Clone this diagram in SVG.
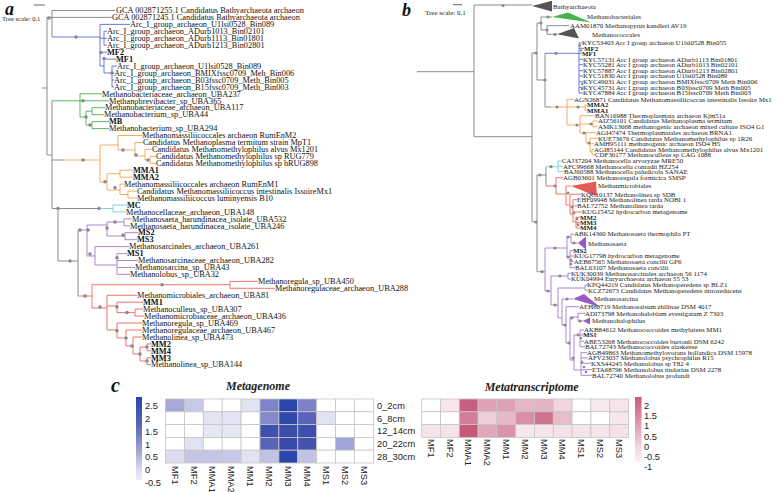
<svg xmlns="http://www.w3.org/2000/svg" width="778" height="492" viewBox="0 0 778 492">
<style>
.br{fill:none;stroke-width:0.9}
.g{stroke:#808080}.bl{stroke:#5a6ed2}.gr{stroke:#4caf50}.or{stroke:#f6a44f}.cy{stroke:#6fd0d8}.pu{stroke:#a478cf}.rd{stroke:#f0645a}
.d{fill:#8a8a8a}
.ta{font-family:"Liberation Serif","Times New Roman",serif;font-size:8.3px;fill:#111}
.tb{font-family:"Liberation Serif","Times New Roman",serif;font-size:6.9px;fill:#222}
.b{font-weight:bold}
.pl{font-family:"Liberation Serif","Times New Roman",serif;font-weight:bold;font-style:italic;fill:#111}
.sc{font-family:"Liberation Serif","Times New Roman",serif;fill:#222}
.hs{font-family:"Liberation Sans",Arial,sans-serif;font-size:9.3px;fill:#222}
.ht{font-family:"Liberation Serif","Times New Roman",serif;font-size:12px;font-weight:bold;font-style:italic;fill:#222;text-anchor:middle}
.c rect{stroke:#c6c6c6;stroke-width:0.8}
</style>
<defs>
<linearGradient id="gb" x1="0" y1="0" x2="0" y2="1">
<stop offset="0" stop-color="#2644a6"/><stop offset="0.35" stop-color="#5c67b8"/><stop offset="0.65" stop-color="#a0a4d6"/><stop offset="0.88" stop-color="#dcdcef"/><stop offset="1" stop-color="#ececf6"/>
</linearGradient>
<linearGradient id="gp" x1="0" y1="0" x2="0" y2="1">
<stop offset="0" stop-color="#c8587a"/><stop offset="0.4" stop-color="#dc9bb1"/><stop offset="0.75" stop-color="#f0d3dd"/><stop offset="1" stop-color="#fbf1f5"/>
</linearGradient>
</defs>
<rect width="778" height="492" fill="#fff"/>

<g id="panel-a">
<text class="pl" x="5" y="15" font-size="18">a</text>
<path d="M34 5H45" stroke="#555" stroke-width="0.9"/>
<text class="sc" x="2" y="21" font-size="6.6">Tree scale: 0.1</text>
<g id="tree-a-connectors">
<path class="br g" d="M42 88H47M47 17V155M47 17.4H112M52 10.5V37M52 10.5H115M47 155H52M52 100.8V208.5M52 160H65M52 208.5H100M58 208.5V261M58 261H78M78 230V296"/>
<path class="br bl" d="M52 37H100M100 24.4V66M100 24.4H130M100 38.3H104M104 31.3V45.2M104 31.3H107M104 38.3H107M104 45.2H107M100 52.2H107M100 66H104M104 59.1V73M104 59.1H116M104 73H112M112 66.1V86.9M112 66.1H117M112 73H114M112 80H114M112 86.9H114"/>
<path class="br gr" d="M52 100.8H80M80 93.8V117M80 93.8H102M80 100.8H109M80 117H86M86 111.2V125.1M86 111.2H92M86 125.1H92M92 107.7V114.7M92 107.7H105M92 114.7H104M92 121.6V128.6M92 121.6H109M92 128.6H109"/>
<path class="br or" d="M65 160H100M100 145V182M100 145H118M118 135.5V150M118 135.5H142M118 150H135M135 142.5V156M135 142.5H143M135 156H145M145 149.4V160M145 149.4H152M145 160H150M150 156.4V163.3M150 156.4H156M150 163.3H156M100 182H107M107 173.7V190M107 173.7H120M120 170.2V177.2M120 170.2H133M120 177.2H133M107 190H120M120 184.1V194.5M120 184.1H124M120 194.5H128M128 191.1V198M128 191.1H137M128 198H137"/>
<path class="br cy" d="M100 208.5H113M113 205V211.9M113 205H127M113 211.9H126"/>
<path class="br pu" d="M78 230H87M87 225V256M87 225H107M107 222V236M107 222H124M124 218.9V225.8M124 218.9H132M124 225.8H130M107 236H125M125 232.7V239.7M125 232.7H138M125 239.7H137M87 256H95M95 246.6V265M95 246.6H129M95 265H117M117 253.6V274.4M117 253.6H127M117 260.5H138M117 267.5H135M117 274.4H130"/>
<path class="br rd" d="M78 296H92M92 284.7V308M92 284.7H230M230 281.4V288.3M230 281.4H258M230 288.3H275M92 308H107M107 295.3V330M107 295.3H137M107 306H117M117 302.2V312.6M117 302.2H143M117 312.6H135M135 309.1V316.1M135 309.1H143M135 316.1H144M107 330H117M117 323V338M117 323H142M117 338H126M126 330V346M126 330H142M126 346H133M133 337V354M133 337H142M133 354H140M140 347V361M140 347H147M147 343.9V350.8M147 343.9H151M147 350.8H151M140 361H147M147 357.8V364.7M147 357.8H151M147 364.7H151"/>
</g>
<g id="tree-a-nodes" class="d">
<circle cx="49" cy="18" r="1.8"/><circle cx="76" cy="37" r="1.8"/><circle cx="101" cy="52.5" r="1.8"/><circle cx="104" cy="58.5" r="1.8"/><circle cx="112" cy="73" r="1.8"/>
<circle cx="83" cy="100.8" r="1.8"/><circle cx="86" cy="117" r="1.8"/><circle cx="90" cy="125" r="1.8"/>
<circle cx="83" cy="160" r="1.8"/><circle cx="123" cy="150" r="1.8"/><circle cx="136" cy="155" r="1.8"/><circle cx="148" cy="160" r="1.8"/><circle cx="105" cy="181.7" r="1.8"/><circle cx="115" cy="187.7" r="1.8"/>
<circle cx="58" cy="208.5" r="1.8"/><circle cx="99" cy="208.5" r="1.8"/><circle cx="70" cy="261" r="1.8"/><circle cx="80" cy="230" r="1.8"/>
<circle cx="88" cy="230" r="1.8"/><circle cx="107" cy="228" r="1.8"/><circle cx="115" cy="222" r="1.8"/><circle cx="123" cy="235" r="1.8"/><circle cx="90" cy="254" r="1.8"/><circle cx="117" cy="257.7" r="1.8"/>
<circle cx="85" cy="296" r="1.8"/><circle cx="162" cy="284.7" r="1.8"/><circle cx="100" cy="307" r="1.8"/><circle cx="117" cy="307" r="1.8"/><circle cx="127" cy="312.6" r="1.8"/><circle cx="117" cy="330.7" r="1.8"/><circle cx="126" cy="338" r="1.8"/><circle cx="132" cy="346" r="1.8"/><circle cx="140" cy="354" r="1.8"/><circle cx="147" cy="347" r="1.8"/><circle cx="147" cy="361" r="1.8"/>
</g>
<g id="tree-a-labels" class="ta">
<text x="116" y="13.2">GCA 002871255.1 Candidatus Bathyarchaeota archaeon</text>
<text x="112" y="20.1">GCA 002871245.1 Candidatus Bathyarchaeota archaeon</text>
<text x="130" y="27.1">Arc_I_group_archaeon_U1lsi0528_Bin089</text>
<text x="107" y="34">Arc_I_group_archaeon_ADurb1013_Bin02101</text>
<text x="107" y="41">Arc_I_group_archaeon_ADurb1113_Bin01801</text>
<text x="107" y="47.9">Arc_I_group_archaeon_ADurb1213_Bin02801</text>
<text x="107" y="54.9" class="b">MF2</text>
<text x="116" y="61.8" class="b">MF1</text>
<text x="117" y="68.8">Arc_I_group_archaeon_U1lsi0528_Bin089</text>
<text x="114" y="75.7">Arc_I_group_archaeon_BMIXfssc0709_Meh_Bin006</text>
<text x="114" y="82.7">Arc_I_group_archaeon_B03fssc0709_Meth_Bin005</text>
<text x="114" y="89.6">Arc_I_group_archaeon_B15fssc0709_Meth_Bin003</text>
<text x="102" y="96.5">Methanobacteriaceae_archaeon_UBA237</text>
<text x="109" y="103.5">Methanobrevibacter_sp_UBA365</text>
<text x="105" y="110.4">Methanobacteriaceae_archaeon_UBA117</text>
<text x="104" y="117.4">Methanobacterium_sp_UBA44</text>
<text x="109" y="124.3" class="b">MB</text>
<text x="109" y="131.3">Methanobacterium_sp_UBA294</text>
<text x="142" y="138.2">Methanomassiliicoccales archaeon RumEnM2</text>
<text x="143" y="145.2">Candidatus Methanoplasma termitum strain MpT1</text>
<text x="152" y="152.1">Candidatus Methanomethylophilus alvus Mx1201</text>
<text x="156" y="159">Candidatus Methanomethylophilus sp RUG779</text>
<text x="156" y="166">Candidatus Methanomethylophilus sp hRUG898</text>
<text x="133" y="172.9" class="b">MMA1</text>
<text x="133" y="179.9" class="b">MMA2</text>
<text x="124" y="186.8">Methanomassiliicoccales archaeon RumEnM1</text>
<text x="137" y="193.8">Candidatus Methanomassiliicoccus intestinalis IssoireMx1</text>
<text x="137" y="200.7">Methanomassiliicoccus luminyensis B10</text>
<text x="127" y="207.7" class="b">MC</text>
<text x="126" y="214.6">Methanocellaceae_archaeon_UBA148</text>
<text x="132" y="221.6">Methanosaeta_harundinacea_isolate_UBA532</text>
<text x="130" y="228.5">Methanosaeta_harundinacea_isolate_UBA246</text>
<text x="138" y="235.4" class="b">MS2</text>
<text x="137" y="242.4" class="b">MS3</text>
<text x="129" y="249.3">Methanosarcinales_archaeon_UBA261</text>
<text x="127" y="256.3" class="b">MS1</text>
<text x="138" y="263.2">Methanosarcinaceae_archaeon_UBA282</text>
<text x="135" y="270.2">Methanosarcina_sp_UBA43</text>
<text x="130" y="277.1">Methanolobus_sp_UBA32</text>
<text x="258" y="284.1">Methanoregula_sp_UBA450</text>
<text x="275" y="291">Methanoregulaceae_archaeon_UBA288</text>
<text x="137" y="298">Methanomicrobiales_archaeon_UBA81</text>
<text x="143" y="304.9" class="b">MM1</text>
<text x="143" y="311.8">Methanoculleus_sp_UBA307</text>
<text x="144" y="318.8">Methanomicrobiaceae_archaeon_UBA436</text>
<text x="142" y="325.7">Methanoregula_sp_UBA469</text>
<text x="142" y="332.7">Methanoregulaceae_archaeon_UBA467</text>
<text x="142" y="339.6">Methanolinea_sp_UBA473</text>
<text x="151" y="346.6" class="b">MM2</text>
<text x="151" y="353.5" class="b">MM4</text>
<text x="151" y="360.5" class="b">MM3</text>
<text x="151" y="367.4">Methanolinea_sp_UBA144</text>
</g>
</g>

<g id="panel-b">
<text class="pl" x="402" y="16" font-size="18">b</text>
<path d="M453 4.7H462" stroke="#555" stroke-width="0.9"/>
<text class="sc" x="425" y="15" font-size="7">Tree scale: 0.1</text>
<g id="tree-b-collapsed">
<polygon points="532,6 552,0.8 552,11.5" fill="#555"/>
<polygon points="552,17 568,12.5 591,22.5" fill="#4caf50"/>
<polygon points="557,34.3 574,28 579,38.5" fill="#555"/>
<polygon points="571,186 596,181.5 597,196.5" fill="#e65a55"/>
<polygon points="578,243 586,236.5 586,249.5" fill="#9a58c2"/>
<polygon points="573,299 584,294 600,307" fill="#9a58c2"/>
<polygon points="583,321 590,317.5 590,324.5" fill="#9a58c2"/>
</g>
<g id="tree-b-connectors">
<path class="br g" d="M417 71.7H474M474 5V136.7M474 5H532M474 136.7H532M532 53V221.7M532 53H537M537 23V80M537 23H541M541 17V30M541 30H547M547 25.7V34.3M547 25.7H569M547 34.3H557M537 80H545M545 53.3V107M532 221.7H537M537 175V271.7M537 175H546M546 166.7V186"/>
<path class="br gr" d="M541 17H552"/>
<path class="br bl" d="M545 53.3H579M579 43V93M579 43H582M579 48.3H584M579 53.3H582M579 59.3H583M579 64.7H583M579 70.7H583M579 76H583M579 81.7H583M579 87.3H583M579 93H583"/>
<path class="br or" d="M551 107H585M567 99.3V125M567 99.3H574M585 105V110.3M585 105H587M585 110.3H587M567 125H580M580 115.7V133M580 115.7H595M580 124H593M593 121V126.7M593 121H598M593 126.7H598M580 133H586M586 132.7V143M586 132.7H596M586 143H590M590 138.3V152M590 138.3H598M590 143.7H594M590 152H592M592 149.3V154.7M592 149.3H594M592 154.7H595"/>
<path class="br g" d="M545 107H551"/>
<path class="br cy" d="M546 166.7H558M558 161V171.7M558 161H562M558 166.3H563M558 171.7H564"/>
<path class="br rd" d="M546 186H556M556 177.7V194M556 177.7H563M556 194H566M566 186V205M566 186H571M566 205H570M570 194.3V214M570 194.3H581M570 214H573M573 199.7V222M573 199.7H577M573 206H577M573 212H582M573 222H576M576 217.3V228M576 217.3H580M576 222.7H580M576 228H580"/>
<path class="br pu" d="M537 271.7H545M545 248V291M545 248H567M567 237V257M567 237H571M571 234V243M571 234H574M571 243H578M567 257H570M570 250.7V267.7M570 250.7H573M570 256H574M570 261.7H574M570 267.7H575M545 291H551M551 276V305M551 276H568M568 273.3V279M568 273.3H571M568 279H571M551 305H558M558 288V318M558 288H585M585 285V290.3M585 285H587M585 290.3H588M558 318H562M562 299V325M562 299H573M562 325H566M566 306.7V343M566 306.7H579M566 343H570M570 317V360M570 317H578M578 313.3V321M578 313.3H585M578 321H583M570 360H574M574 335V370M574 335H580M580 330V346.7M580 330H584M580 335H583M580 341.3H584M580 346.7H585M574 370H581M581 352.7V375.3M581 352.7H587M581 358H588M581 363.3H591M581 369.7H592M581 375.3H592"/>
</g>
<g id="tree-b-nodes" class="d">
<circle cx="503" cy="5.5" r="1.6"/><circle cx="536" cy="53" r="1.6"/><circle cx="541" cy="23" r="1.6"/><circle cx="548" cy="17" r="1.6"/><circle cx="547" cy="30" r="1.6"/><circle cx="555" cy="34.3" r="1.6"/>
<circle cx="545" cy="80" r="1.6"/><circle cx="556" cy="53.3" r="1.6"/><circle cx="580" cy="45.5" r="1.2"/><circle cx="581" cy="50.5" r="1.2"/><circle cx="582" cy="84" r="1.2"/><circle cx="582" cy="89" r="1.2"/>
<circle cx="557" cy="107" r="1.6"/><circle cx="578" cy="107" r="1.6"/><circle cx="577" cy="125" r="1.6"/><circle cx="591" cy="124" r="1.6"/><circle cx="584" cy="133" r="1.6"/><circle cx="589" cy="143" r="1.6"/>
<circle cx="536" cy="222" r="1.6"/><circle cx="540" cy="175" r="1.6"/><circle cx="551" cy="166.7" r="1.6"/><circle cx="555" cy="186" r="1.6"/><circle cx="568" cy="193" r="1.6"/>
<circle cx="572" cy="207" r="1.4"/><circle cx="574" cy="213" r="1.4"/><circle cx="577" cy="219" r="1.4"/><circle cx="578" cy="225" r="1.4"/>
<circle cx="542" cy="271.7" r="1.6"/><circle cx="555" cy="248" r="1.6"/><circle cx="568" cy="237" r="1.6"/><circle cx="574" cy="243" r="1.6"/><circle cx="568" cy="257" r="1.6"/><circle cx="571" cy="260" r="1.3"/><circle cx="571" cy="264" r="1.3"/>
<circle cx="548" cy="291" r="1.6"/><circle cx="560" cy="276" r="1.6"/><circle cx="555" cy="305" r="1.6"/><circle cx="567" cy="299" r="1.6"/><circle cx="565" cy="325" r="1.6"/><circle cx="569" cy="343" r="1.6"/><circle cx="572" cy="318" r="1.6"/><circle cx="580" cy="321" r="1.6"/><circle cx="573" cy="358" r="1.6"/><circle cx="578" cy="335" r="1.4"/><circle cx="581" cy="338" r="1.3"/><circle cx="582" cy="362" r="1.3"/><circle cx="584" cy="367" r="1.3"/><circle cx="586" cy="372" r="1.3"/>
</g>
<g id="tree-b-labels" class="tb">
<text x="553" y="9">Bathyarchaeota</text>
<text x="587" y="19.3">Methanobacteriales</text>
<text x="570" y="28">AAM01870 Methanopyrus kandleri AV19</text>
<text x="592" y="37">Methanococcales</text>
<text x="582" y="45.3">KYC53403 Arc I group archaeon U1lsi0528 Bin055</text>
<text x="584" y="50.6" class="b">MF2</text>
<text x="582" y="55.6" class="b">MF1</text>
<text x="583" y="61.6">KYC57131 Arc I group archaeon ADurb1113 Bin01801</text>
<text x="583" y="67">KYC55281 Arc I group archaeon ADurb1013 Bin02101</text>
<text x="583" y="73">KYC57887 Arc I group archaeon ADurb1213 Bin02801</text>
<text x="583" y="78.3">KYC51830 Arc I group archaeon U1lsi0528 Bin089</text>
<text x="583" y="84">KYC49031 Arc I group archaeon BMIXfssc0709 Meth Bin006</text>
<text x="583" y="89.6">KYC45731 Arc I group archaeon B03fssc0709 Meth Bin005</text>
<text x="583" y="95.3">KYC47884 Arc I group archaeon B15fssc0709 Meth Bin003</text>
<text x="574" y="101.6">AGN26871 Candidatus Methanomassiliicoccus intestinalis Issoire Mx1</text>
<text x="587" y="107.3" class="b">MMA2</text>
<text x="587" y="112.6" class="b">MMA1</text>
<text x="595" y="118">BAN16988 Thermoplasmata archaeon Kjm51a</text>
<text x="598" y="123.3">AIZ56101 Candidatus Methanoplasma termitum</text>
<text x="598" y="129">AMK13668 methanogenic archaeon mixed culture ISO4 G1</text>
<text x="596" y="135">AGI47474 Thermoplasmatales archaeon BRNA1</text>
<text x="598" y="140.6">KUE73676 Candidatus Methanomethylophilus sp 1R26</text>
<text x="594" y="146">AMH95111 methanogenic archaeon ISO4 H5</text>
<text x="594" y="151.6">AGI85144 Candidatus Methanomethylophilus alvus Mx1201</text>
<text x="595" y="157">CDF30177 Methanoculleus sp CAG 1088</text>
<text x="562" y="163.3">CAJ37204 Methanocella arvoryzae MRE50</text>
<text x="563" y="168.6">AFC99668 Methanocella conradii HZ254</text>
<text x="564" y="174">BAJ60588 Methanocella paludicola SANAE</text>
<text x="563" y="180">AGB03601 Methanoregula formicica SMSP</text>
<text x="598" y="188">Methanmicrobiales</text>
<text x="581" y="196.6">KQC10137 Methanolinea sp SDB</text>
<text x="577" y="202">EHF09948 Methanolinea tarda NOBI 1</text>
<text x="577" y="208.3">BAL72752 Methanolinea tarda</text>
<text x="582" y="214.3">KUG15452 hydrocarbon metagenome</text>
<text x="580" y="219.6" class="b">MM2</text>
<text x="580" y="225" class="b">MM3</text>
<text x="580" y="230.3" class="b">MM4</text>
<text x="574" y="236.3">ABK14360 Methanosaeta thermophila PT</text>
<text x="588" y="245.6">Methanosaeta</text>
<text x="573" y="253" class="b">MS2</text>
<text x="574" y="258.3">KUG17798 hydrocarbon metagenome</text>
<text x="574" y="264">AEB67565 Methanosaeta concilii GP6</text>
<text x="575" y="270">BAL63107 Methanosaeta concilii</text>
<text x="571" y="275.6">KUK30039 Methanosarcinales archaeon 56 1174</text>
<text x="571" y="281.3">KUK04994 Euryarchaeota archaeon 55 53</text>
<text x="587" y="287.3">KPQ44219 Candidatus Methanoperedens sp BLZ1</text>
<text x="588" y="292.6">KCZ72673 Candidatus Methanoperedens nitroreducens</text>
<text x="594" y="301.3">Methanosarcina</text>
<text x="579" y="309">AEH60719 Methanosalsum zhilinae DSM 4017</text>
<text x="585" y="315.6">ADI73798 Methanohalobium evestigatum Z 7303</text>
<text x="592" y="323.3">Methanohalophilus</text>
<text x="584" y="332.3">AKB84612 Methanococcoides methylutens MM1</text>
<text x="583" y="337.3" class="b">MS1</text>
<text x="584" y="343.6">ABE53268 Methanococcoides burtonii DSM 6242</text>
<text x="585" y="349">BAL72743 Methanococcoides alaskense</text>
<text x="587" y="355">AGB49863 Methanomethylovorans hollandica DSM 15978</text>
<text x="588" y="360.3">AFV23037 Methanolobus psychrophilus R15</text>
<text x="591" y="365.6">KXS44245 Methanolobus sp T82 4</text>
<text x="592" y="372">ETA68796 Methanolobus tindarius DSM 2278</text>
<text x="592" y="377.6">BAL72740 Methanolobus profundi</text>
</g>
</g>

<g id="panel-c">
<text class="pl" x="111" y="392" font-size="20">c</text>
<g id="heatmap-metagenome">
<text class="ht" x="258" y="390">Metagenome</text>
<rect x="136" y="397" width="6" height="83" fill="url(#gb)"/>
<g class="hs">
<text x="145" y="408.8">2.5</text><text x="145" y="421.7">2</text><text x="145" y="434.6">1.5</text><text x="145" y="447.5">1</text><text x="145" y="460.4">0.5</text><text x="145" y="473.3">0</text><text x="145" y="486.2">-0.5</text>
</g>
<g class="c">
<rect x="165.5" y="399" width="18.9" height="12.8" fill="#a6a9d8"/><rect x="184.4" y="399" width="18.9" height="12.8" fill="#c6c8e7"/><rect x="203.3" y="399" width="18.9" height="12.8" fill="#fff"/><rect x="222.2" y="399" width="18.9" height="12.8" fill="#fff"/><rect x="241.1" y="399" width="18.9" height="12.8" fill="#e1e2f2"/><rect x="260" y="399" width="18.9" height="12.8" fill="#7c83c9"/><rect x="278.9" y="399" width="18.9" height="12.8" fill="#2b47a9"/><rect x="297.8" y="399" width="18.9" height="12.8" fill="#7c82c8"/><rect x="316.7" y="399" width="18.9" height="12.8" fill="#fff"/><rect x="335.6" y="399" width="18.9" height="12.8" fill="#fff"/><rect x="354.5" y="399" width="18.9" height="12.8" fill="#fff"/>
<rect x="165.5" y="411.8" width="18.9" height="12.8" fill="#fff"/><rect x="184.4" y="411.8" width="18.9" height="12.8" fill="#fff"/><rect x="203.3" y="411.8" width="18.9" height="12.8" fill="#e3e4f3"/><rect x="222.2" y="411.8" width="18.9" height="12.8" fill="#e3e4f3"/><rect x="241.1" y="411.8" width="18.9" height="12.8" fill="#fff"/><rect x="260" y="411.8" width="18.9" height="12.8" fill="#8389cb"/><rect x="278.9" y="411.8" width="18.9" height="12.8" fill="#2e49a9"/><rect x="297.8" y="411.8" width="18.9" height="12.8" fill="#5963b7"/><rect x="316.7" y="411.8" width="18.9" height="12.8" fill="#e1e2f2"/><rect x="335.6" y="411.8" width="18.9" height="12.8" fill="#fff"/><rect x="354.5" y="411.8" width="18.9" height="12.8" fill="#fff"/>
<rect x="165.5" y="424.6" width="18.9" height="12.8" fill="#fff"/><rect x="184.4" y="424.6" width="18.9" height="12.8" fill="#fff"/><rect x="203.3" y="424.6" width="18.9" height="12.8" fill="#e6e7f4"/><rect x="222.2" y="424.6" width="18.9" height="12.8" fill="#e6e7f4"/><rect x="241.1" y="424.6" width="18.9" height="12.8" fill="#fff"/><rect x="260" y="424.6" width="18.9" height="12.8" fill="#3f51ad"/><rect x="278.9" y="424.6" width="18.9" height="12.8" fill="#3b4dab"/><rect x="297.8" y="424.6" width="18.9" height="12.8" fill="#3e50ad"/><rect x="316.7" y="424.6" width="18.9" height="12.8" fill="#fff"/><rect x="335.6" y="424.6" width="18.9" height="12.8" fill="#fff"/><rect x="354.5" y="424.6" width="18.9" height="12.8" fill="#fff"/>
<rect x="165.5" y="437.4" width="18.9" height="12.8" fill="#fff"/><rect x="184.4" y="437.4" width="18.9" height="12.8" fill="#e2e3f2"/><rect x="203.3" y="437.4" width="18.9" height="12.8" fill="#fff"/><rect x="222.2" y="437.4" width="18.9" height="12.8" fill="#fff"/><rect x="241.1" y="437.4" width="18.9" height="12.8" fill="#fff"/><rect x="260" y="437.4" width="18.9" height="12.8" fill="#5b64b7"/><rect x="278.9" y="437.4" width="18.9" height="12.8" fill="#394baa"/><rect x="297.8" y="437.4" width="18.9" height="12.8" fill="#4453ae"/><rect x="316.7" y="437.4" width="18.9" height="12.8" fill="#fff"/><rect x="335.6" y="437.4" width="18.9" height="12.8" fill="#a0a4d6"/><rect x="354.5" y="437.4" width="18.9" height="12.8" fill="#fff"/>
<rect x="165.5" y="450.2" width="18.9" height="12.8" fill="#dcdcef"/><rect x="184.4" y="450.2" width="18.9" height="12.8" fill="#c3c5e5"/><rect x="203.3" y="450.2" width="18.9" height="12.8" fill="#c3c5e5"/><rect x="222.2" y="450.2" width="18.9" height="12.8" fill="#c7c8e6"/><rect x="241.1" y="450.2" width="18.9" height="12.8" fill="#e2e3f2"/><rect x="260" y="450.2" width="18.9" height="12.8" fill="#c1c3e4"/><rect x="278.9" y="450.2" width="18.9" height="12.8" fill="#2a47a9"/><rect x="297.8" y="450.2" width="18.9" height="12.8" fill="#c1c3e4"/><rect x="316.7" y="450.2" width="18.9" height="12.8" fill="#fff"/><rect x="335.6" y="450.2" width="18.9" height="12.8" fill="#fff"/><rect x="354.5" y="450.2" width="18.9" height="12.8" fill="#fff"/>
</g>
<g class="hs">
<text x="377" y="408.7">0_2cm</text><text x="377" y="421.5">6_8cm</text><text x="377" y="434.3">12_14cm</text><text x="377" y="447.1">20_22cm</text><text x="377" y="459.9">28_30cm</text>
<text transform="translate(171.6 466) rotate(90)">MF1</text>
<text transform="translate(190.5 466) rotate(90)">MF2</text>
<text transform="translate(209.4 466) rotate(90)">MMA1</text>
<text transform="translate(228.3 466) rotate(90)">MMA2</text>
<text transform="translate(247.2 466) rotate(90)">MM1</text>
<text transform="translate(266.1 466) rotate(90)">MM2</text>
<text transform="translate(285 466) rotate(90)">MM3</text>
<text transform="translate(303.9 466) rotate(90)">MM4</text>
<text transform="translate(322.8 466) rotate(90)">MS1</text>
<text transform="translate(341.7 466) rotate(90)">MS2</text>
<text transform="translate(360.6 466) rotate(90)">MS3</text>
</g>
</g>
<g id="heatmap-metatranscriptome">
<text class="ht" x="531.7" y="390.5">Metatranscriptome</text>
<g class="c">
<rect x="421.7" y="399" width="18.8" height="12.8" fill="#fff"/><rect x="440.5" y="399" width="18.8" height="12.8" fill="#f7e5ec"/><rect x="459.3" y="399" width="18.8" height="12.8" fill="#c95f80"/><rect x="478.1" y="399" width="18.8" height="12.8" fill="#dea1b6"/><rect x="496.9" y="399" width="18.8" height="12.8" fill="#dda0b5"/><rect x="515.7" y="399" width="18.8" height="12.8" fill="#e5b4c5"/><rect x="534.5" y="399" width="18.8" height="12.8" fill="#e4b3c4"/><rect x="553.3" y="399" width="18.8" height="12.8" fill="#f0d4de"/><rect x="572.1" y="399" width="18.8" height="12.8" fill="#fff"/><rect x="590.9" y="399" width="18.8" height="12.8" fill="#f8e9ef"/><rect x="609.7" y="399" width="18.8" height="12.8" fill="#f6e3ea"/>
<rect x="421.7" y="411.8" width="18.8" height="12.8" fill="#fff"/><rect x="440.5" y="411.8" width="18.8" height="12.8" fill="#fff"/><rect x="459.3" y="411.8" width="18.8" height="12.8" fill="#d27e9a"/><rect x="478.1" y="411.8" width="18.8" height="12.8" fill="#efcfda"/><rect x="496.9" y="411.8" width="18.8" height="12.8" fill="#e6b8c8"/><rect x="515.7" y="411.8" width="18.8" height="12.8" fill="#d98ea8"/><rect x="534.5" y="411.8" width="18.8" height="12.8" fill="#d0738f"/><rect x="553.3" y="411.8" width="18.8" height="12.8" fill="#e8bccb"/><rect x="572.1" y="411.8" width="18.8" height="12.8" fill="#fff"/><rect x="590.9" y="411.8" width="18.8" height="12.8" fill="#fff"/><rect x="609.7" y="411.8" width="18.8" height="12.8" fill="#f7e7ed"/>
<rect x="421.7" y="424.6" width="18.8" height="12.8" fill="#f6e3ea"/><rect x="440.5" y="424.6" width="18.8" height="12.8" fill="#f6e3ea"/><rect x="459.3" y="424.6" width="18.8" height="12.8" fill="#c8587a"/><rect x="478.1" y="424.6" width="18.8" height="12.8" fill="#e0a8bb"/><rect x="496.9" y="424.6" width="18.8" height="12.8" fill="#da93ab"/><rect x="515.7" y="424.6" width="18.8" height="12.8" fill="#f7e6ec"/><rect x="534.5" y="424.6" width="18.8" height="12.8" fill="#f6e4eb"/><rect x="553.3" y="424.6" width="18.8" height="12.8" fill="#f5e1e8"/><rect x="572.1" y="424.6" width="18.8" height="12.8" fill="#f6e4eb"/><rect x="590.9" y="424.6" width="18.8" height="12.8" fill="#f6e4eb"/><rect x="609.7" y="424.6" width="18.8" height="12.8" fill="#f5e1e8"/>
</g>
<rect x="635" y="397" width="6.5" height="65" fill="url(#gp)"/>
<g class="hs">
<text x="644" y="409">2</text><text x="644" y="419.2">1.5</text><text x="644" y="429.4">1</text><text x="644" y="439.6">0.5</text><text x="644" y="449.8">0</text><text x="644" y="460">-0.5</text><text x="644" y="470.2">-1</text>
<text transform="translate(427.8 439) rotate(90)">MF1</text>
<text transform="translate(446.6 439) rotate(90)">MF2</text>
<text transform="translate(465.4 439) rotate(90)">MMA1</text>
<text transform="translate(484.2 439) rotate(90)">MMA2</text>
<text transform="translate(503 439) rotate(90)">MM1</text>
<text transform="translate(521.8 439) rotate(90)">MM2</text>
<text transform="translate(540.6 439) rotate(90)">MM3</text>
<text transform="translate(559.4 439) rotate(90)">MM4</text>
<text transform="translate(578.2 439) rotate(90)">MS1</text>
<text transform="translate(597 439) rotate(90)">MS2</text>
<text transform="translate(615.8 439) rotate(90)">MS3</text>
</g>
</g>
</g>
</svg>
